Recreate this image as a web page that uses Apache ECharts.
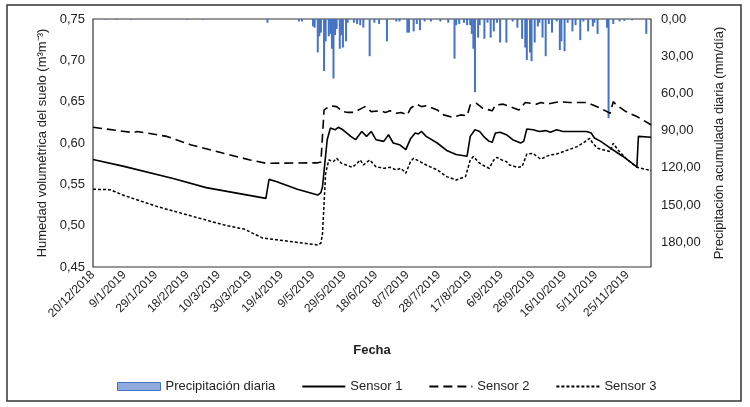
<!DOCTYPE html>
<html>
<head>
<meta charset="utf-8">
<script src="https://cdn.jsdelivr.net/npm/echarts@6/dist/echarts.min.js"></script>
<style>
  html, body { margin: 0; padding: 0; background: #fff; }
  #chart { width: 750px; height: 407px; }
</style>
</head>
<body>
<div id="chart"></div>
<script>
'use strict';

// x = days since 20/12/2018, one tick label every 20 days
const dateLabels = ['20/12/2018', '9/1/2019', '29/1/2019', '18/2/2019', '10/3/2019',
  '30/3/2019', '19/4/2019', '9/5/2019', '29/5/2019', '18/6/2019', '8/7/2019',
  '28/7/2019', '17/8/2019', '6/9/2019', '26/9/2019', '16/10/2019', '5/11/2019', '25/11/2019'];

// daily rain (mm/día), [day, mm]
const precipitacion = [
  [8, 0.5], [15, 0.5], [24, 0.5], [60, 0.5], [70, 0.5], [111, 3], [131, 2], [133, 2],
  [140, 6], [141, 7], [143, 27], [144, 14], [145, 11], [147, 42], [148, 18], [150, 14],
  [151, 12], [152, 24], [153, 48], [154, 13], [155, 8], [157, 24], [158, 13], [159, 23],
  [161, 18], [162, 3], [166, 3], [168, 4], [170, 5], [172, 7], [176, 30], [179, 3],
  [182, 4], [187, 18], [193, 2], [195, 2], [200, 11], [201, 11], [204, 10], [206, 4],
  [208, 9], [211, 2], [215, 2], [221, 2], [226, 3], [230, 32], [231, 5], [233, 4],
  [236, 3], [238, 5], [240, 5], [241, 12], [242, 24], [243, 59], [245, 15], [246, 5],
  [249, 16], [251, 3], [253, 15], [255, 10], [257, 3], [259, 19], [263, 19], [267, 2],
  [270, 7], [273, 16], [275, 23], [276, 33], [278, 27], [279, 34], [281, 19], [283, 6],
  [284, 3], [286, 15], [288, 30], [290, 4], [292, 11], [295, 2], [297, 25], [298, 18],
  [300, 26], [302, 3], [305, 10], [307, 5], [310, 17], [312, 2], [315, 10], [318, 6],
  [319, 3], [321, 12], [327, 7], [328, 80], [331, 4], [335, 2], [338, 1.5], [343, 1],
  [352, 12]
];

const sensor1 = [
  [0, 0.580], [19, 0.572], [51, 0.557], [72, 0.546], [110, 0.533], [112, 0.556],
  [117, 0.553], [130, 0.544], [143, 0.537], [145, 0.540], [146, 0.547], [149, 0.604],
  [151, 0.618], [154, 0.616], [156, 0.619], [159, 0.616], [160, 0.617], [164, 0.608],
  [167, 0.604], [171, 0.614], [174, 0.608], [177, 0.614], [180, 0.604], [185, 0.602],
  [188, 0.610], [191, 0.600], [195, 0.598], [199, 0.592], [202, 0.605], [205, 0.612],
  [207, 0.611], [209, 0.614], [212, 0.608], [219, 0.600], [225, 0.591], [231, 0.586],
  [238, 0.584], [240, 0.608], [243, 0.616], [246, 0.614], [249, 0.607], [252, 0.602],
  [254, 0.601], [256, 0.612], [259, 0.613], [263, 0.610], [267, 0.604], [272, 0.600],
  [274, 0.602], [276, 0.617], [280, 0.616], [284, 0.614], [288, 0.615], [291, 0.613],
  [295, 0.616], [299, 0.614], [314, 0.614], [317, 0.612], [319, 0.606], [323, 0.602],
  [329, 0.594], [337, 0.584], [346, 0.571], [347, 0.608], [355, 0.607]
];

const sensor2 = [
  [0, 0.619], [26, 0.6125], [28, 0.614], [47, 0.608], [62, 0.598], [83, 0.5875],
  [100, 0.5795], [110, 0.5755], [143, 0.576], [145, 0.577], [147, 0.640], [151, 0.645],
  [155, 0.644], [159, 0.638], [162, 0.637], [166, 0.637], [170, 0.641], [173, 0.644],
  [177, 0.638], [183, 0.639], [186, 0.637], [189, 0.639], [193, 0.636], [196, 0.637],
  [200, 0.634], [202, 0.642], [206, 0.647], [209, 0.644], [212, 0.645], [219, 0.640],
  [223, 0.634], [229, 0.631], [234, 0.634], [238, 0.633], [240, 0.646], [244, 0.648],
  [248, 0.642], [254, 0.639], [256, 0.646], [261, 0.647], [265, 0.644], [271, 0.640],
  [275, 0.649], [279, 0.648], [282, 0.647], [285, 0.649], [289, 0.647], [294, 0.649],
  [297, 0.650], [303, 0.649], [314, 0.649], [318, 0.646], [323, 0.642], [327, 0.638],
  [329, 0.636], [331, 0.650], [333, 0.646], [339, 0.638], [346, 0.632], [355, 0.622]
];

const sensor3 = [
  [0, 0.544], [11, 0.5435], [19, 0.537], [41, 0.523], [62, 0.512], [83, 0.501],
  [93, 0.497], [94, 0.499], [96, 0.496], [108, 0.485], [125, 0.481], [143, 0.4766],
  [145, 0.479], [146, 0.490], [148, 0.563], [150, 0.5795], [153, 0.5775], [155, 0.5815],
  [158, 0.5755], [161, 0.5734], [165, 0.5706], [168, 0.5755], [170, 0.5795], [172, 0.5734],
  [176, 0.5795], [180, 0.5714], [185, 0.5694], [189, 0.5706], [193, 0.5674], [196, 0.5694],
  [199, 0.5634], [202, 0.5775], [204, 0.5815], [208, 0.5775], [212, 0.5734], [219, 0.5674],
  [225, 0.5593], [231, 0.5553], [237, 0.5593], [240, 0.5795], [242, 0.5835], [244, 0.5795],
  [246, 0.5755], [249, 0.5722], [252, 0.5694], [255, 0.5795], [257, 0.5827], [260, 0.5795],
  [263, 0.5775], [265, 0.5734], [270, 0.5706], [273, 0.5714], [276, 0.5867], [280, 0.5875],
  [282, 0.5843], [285, 0.5803], [288, 0.5835], [291, 0.5855], [295, 0.5867], [301, 0.5908],
  [308, 0.5956], [313, 0.6016], [316, 0.6057], [318, 0.5996], [321, 0.5936], [325, 0.5916],
  [329, 0.5896], [331, 0.5996], [334, 0.5916], [339, 0.5815], [346, 0.5706], [355, 0.5666]
];

const font = "'Liberation Sans', Arial, sans-serif";
const ink = '#222';

function comma(v) {
  return v.toFixed(2).replace('.', ',');
}

// line series legend icons: keep the line, hide the symbol
function lineLegend(name) {
  return { name: name, itemStyle: { opacity: 0, color: 'rgba(0,0,0,0)', borderWidth: 0 } };
}

const chart = echarts.init(document.getElementById('chart'));

chart.setOption({
  animation: false,
  textStyle: { fontFamily: font, color: ink },
  graphic: [{
    type: 'rect',
    shape: { x: 7, y: 5, width: 734, height: 396 },
    style: { fill: 'none', stroke: '#333', lineWidth: 1.5 }
  }],
  grid: {
    left: 93, right: 99, top: 19, bottom: 140,
    show: true, borderColor: '#333', borderWidth: 1.2,
    containLabel: false, outerBoundsMode: 'none'
  },
  legend: {
    left: 112, top: 375,
    itemWidth: 43, itemHeight: 8, itemGap: 26,
    textStyle: { fontFamily: font, fontSize: 13, color: ink },
    data: [
      { name: 'Precipitación diaria', icon: 'rect',
        itemStyle: { color: '#8FAADC', borderColor: '#4472C4', borderWidth: 1 } },
      lineLegend('Sensor 1'), lineLegend('Sensor 2'), lineLegend('Sensor 3')
    ]
  },
  xAxis: {
    type: 'value', min: 0, max: 355, interval: 20,
    axisLine: { show: false }, axisTick: { show: false }, splitLine: { show: false },
    axisLabel: {
      rotate: 45, fontSize: 12, margin: 6, color: ink, fontFamily: font,
      showMaxLabel: false,
      formatter: function (v) { return dateLabels[v / 20] || ''; }
    },
    name: 'Fecha', nameLocation: 'middle', nameGap: 77,
    nameTextStyle: { fontWeight: 'bold', fontSize: 13, color: ink, fontFamily: font }
  },
  yAxis: [{
    type: 'value', min: 0.45, max: 0.75, interval: 0.05,
    axisLine: { show: false }, axisTick: { show: false }, splitLine: { show: false },
    axisLabel: { fontSize: 13, margin: 8, color: ink, fontFamily: font, formatter: comma },
    name: 'Humedad volumétrica del suelo (m³m⁻³)', nameLocation: 'middle', nameGap: 42,
    nameRotate: 90,
    nameTextStyle: { fontSize: 13, color: ink, fontFamily: font }
  }, {
    type: 'value', position: 'right', inverse: true, min: 0, max: 200, interval: 30,
    axisLine: { show: false }, axisTick: { show: false }, splitLine: { show: false },
    axisLabel: { fontSize: 13, margin: 10, color: ink, fontFamily: font,
      showMaxLabel: false, formatter: comma },
    name: 'Precipitación acumulada diaria (mm/día)', nameLocation: 'middle', nameGap: 62,
    nameRotate: 90,
    nameTextStyle: { fontSize: 13, color: ink, fontFamily: font }
  }],
  series: [{
    name: 'Precipitación diaria', type: 'bar', yAxisIndex: 1,
    barWidth: 2, data: precipitacion,
    itemStyle: { color: '#4472C4' }
  }, {
    name: 'Sensor 1', type: 'line', symbol: 'none', data: sensor1,
    lineStyle: { color: '#000', width: 1.6 }, itemStyle: { color: '#000' }
  }, {
    name: 'Sensor 2', type: 'line', symbol: 'none', data: sensor2,
    lineStyle: { color: '#000', width: 1.6, type: [9, 5] }, itemStyle: { color: '#000' }
  }, {
    name: 'Sensor 3', type: 'line', symbol: 'none', data: sensor3,
    lineStyle: { color: '#000', width: 1.5, type: [3, 2] }, itemStyle: { color: '#000' }
  }]
});
</script>
</body>
</html>
